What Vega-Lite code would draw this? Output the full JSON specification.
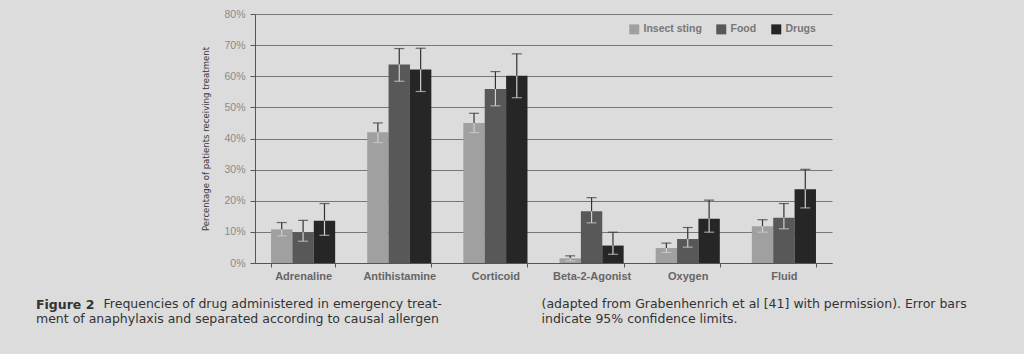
{
  "$schema": "https://vega.github.io/schema/vega-lite/v6.json",
  "width": 577,
  "height": 249,
  "autosize": {"type": "none"},
  "padding": {"left": 255, "top": 14, "right": 192, "bottom": 91},
  "background": "#dcdcdc",
  "config": {"view": {"stroke": null}, "font": "Liberation Sans"},
  "title": {
    "text": "Figure 2",
    "subtitle": ["\u200b\u00a0\u00a0\u00a0\u00a0\u00a0\u00a0\u00a0\u00a0\u00a0\u00a0\u00a0\u00a0\u00a0\u00a0\u00a0\u00a0\u00a0Frequencies of drug administered in emergency treat-", "ment of anaphylaxis and separated according to causal allergen"],
    "orient": "bottom",
    "anchor": "start",
    "frame": "group",
    "dx": -219,
    "dy": -36,
    "offset": 10,
    "font": "DejaVu Sans",
    "fontSize": 12.5,
    "fontWeight": "bold",
    "color": "#333333",
    "subtitleFont": "DejaVu Sans",
    "subtitleFontSize": 12.5,
    "subtitleFontWeight": "normal",
    "subtitleColor": "#333333",
    "subtitleLineHeight": 15,
    "subtitlePadding": -13
  },
  "data": {
    "values": [
      {"category": "Adrenaline", "allergen": "Insect sting", "value": 10.8, "lo": 8.7, "hi": 13.0},
      {"category": "Adrenaline", "allergen": "Food", "value": 9.9, "lo": 7.0, "hi": 13.7},
      {"category": "Adrenaline", "allergen": "Drugs", "value": 13.6, "lo": 8.9, "hi": 19.1},
      {"category": "Antihistamine", "allergen": "Insect sting", "value": 42.0, "lo": 38.7, "hi": 45.0},
      {"category": "Antihistamine", "allergen": "Food", "value": 63.8, "lo": 58.4, "hi": 68.9},
      {"category": "Antihistamine", "allergen": "Drugs", "value": 62.2, "lo": 55.1, "hi": 69.0},
      {"category": "Corticoid", "allergen": "Insect sting", "value": 45.0, "lo": 41.9, "hi": 48.1},
      {"category": "Corticoid", "allergen": "Food", "value": 55.9, "lo": 50.5, "hi": 61.5},
      {"category": "Corticoid", "allergen": "Drugs", "value": 60.2, "lo": 53.1, "hi": 67.2},
      {"category": "Beta-2-Agonist", "allergen": "Insect sting", "value": 1.5, "lo": 0.7, "hi": 2.3},
      {"category": "Beta-2-Agonist", "allergen": "Food", "value": 16.6, "lo": 12.9, "hi": 21.0},
      {"category": "Beta-2-Agonist", "allergen": "Drugs", "value": 5.6, "lo": 2.8, "hi": 9.9},
      {"category": "Oxygen", "allergen": "Insect sting", "value": 4.8, "lo": 3.4, "hi": 6.4},
      {"category": "Oxygen", "allergen": "Food", "value": 7.7, "lo": 5.1, "hi": 11.4},
      {"category": "Oxygen", "allergen": "Drugs", "value": 14.2, "lo": 9.9, "hi": 20.2},
      {"category": "Fluid", "allergen": "Insect sting", "value": 11.8, "lo": 9.9, "hi": 13.9},
      {"category": "Fluid", "allergen": "Food", "value": 14.5, "lo": 11.0, "hi": 19.1},
      {"category": "Fluid", "allergen": "Drugs", "value": 23.7, "lo": 17.7, "hi": 30.1}
    ]
  },
  "encoding": {
    "x": {
      "field": "category",
      "type": "nominal",
      "sort": ["Adrenaline", "Antihistamine", "Corticoid", "Beta-2-Agonist", "Oxygen", "Fluid"],
      "scale": {"paddingInner": 0.333, "paddingOuter": 0.1667},
      "axis": {
        "labelAngle": 0,
        "labelFont": "Liberation Sans",
        "labelFontWeight": "bold",
        "labelFontSize": 11,
        "labelColor": "#666666",
        "labelPadding": 3,
        "tickBand": "extent",
        "tickSize": 4,
        "tickColor": "#555555",
        "domainColor": "#555555",
        "title": ["(adapted from Grabenhenrich et al [41]  with permission). Error bars", "indicate 95% confidence limits."],
        "titleX": 286,
        "titleY": 44,
        "titleAlign": "left",
        "titleBaseline": "alphabetic",
        "titleFont": "DejaVu Sans",
        "titleFontSize": 12.5,
        "titleFontWeight": "normal",
        "titleColor": "#333333",
        "titleLineHeight": 15
      }
    },
    "xOffset": {"field": "allergen", "type": "nominal", "sort": ["Insect sting", "Food", "Drugs"]}
  },
  "resolve": {"axis": {"y": "independent"}},
  "layer": [
    {
      "mark": {"type": "bar"},
      "encoding": {
        "y": {
          "field": "value",
          "type": "quantitative",
          "scale": {"domain": [0, 80]},
          "axis": {
            "values": [0, 10, 20, 30, 40, 50, 60, 70, 80],
            "labelOverlap": false,
            "labelExpr": "datum.value + '%'",
            "labelColor": "#8a8a8a",
            "labelFontSize": 10.5,
            "labelPadding": 5,
            "tickSize": 5,
            "tickColor": "#555555",
            "domainColor": "#555555",
            "grid": true,
            "gridColor": "#777777",
            "gridOpacity": 1,
            "title": "Percentage of patients receiving treatment",
            "titleFont": "DejaVu Sans Condensed, Liberation Sans",
            "titleFontSize": 9.5,
            "titleFontWeight": "normal",
            "titleColor": "#3a3a3a",
            "titlePadding": 13
          }
        },
        "color": {
          "field": "allergen",
          "type": "nominal",
          "scale": {"domain": ["Insect sting", "Food", "Drugs"], "range": ["#a0a0a0", "#585858", "#262626"]},
          "legend": {
            "orient": "none",
            "legendX": 374,
            "legendY": 10,
            "direction": "horizontal",
            "title": null,
            "symbolType": "square",
            "symbolSize": 100,
            "symbolStrokeWidth": 0,
            "labelFont": "Liberation Sans",
            "labelFontWeight": "bold",
            "labelFontSize": 10.5,
            "labelColor": "#777777",
            "labelOffset": 4,
            "columnPadding": 14
          }
        }
      }
    },
    {
      "mark": {"type": "rule", "color": "#333333", "strokeWidth": 1.2},
      "encoding": {"y": {"field": "value", "type": "quantitative", "axis": null}, "y2": {"field": "hi"}}
    },
    {
      "mark": {"type": "rule", "color": "#d0d0d0", "strokeWidth": 1.2},
      "encoding": {"y": {"field": "lo", "type": "quantitative", "axis": null}, "y2": {"field": "value"}}
    },
    {
      "mark": {"type": "tick", "color": "#333333", "size": 10, "thickness": 1.2},
      "encoding": {"y": {"field": "hi", "type": "quantitative", "axis": null}}
    },
    {
      "mark": {"type": "tick", "color": "#d0d0d0", "size": 10, "thickness": 1.2},
      "encoding": {"y": {"field": "lo", "type": "quantitative", "axis": null}}
    }
  ]
}
